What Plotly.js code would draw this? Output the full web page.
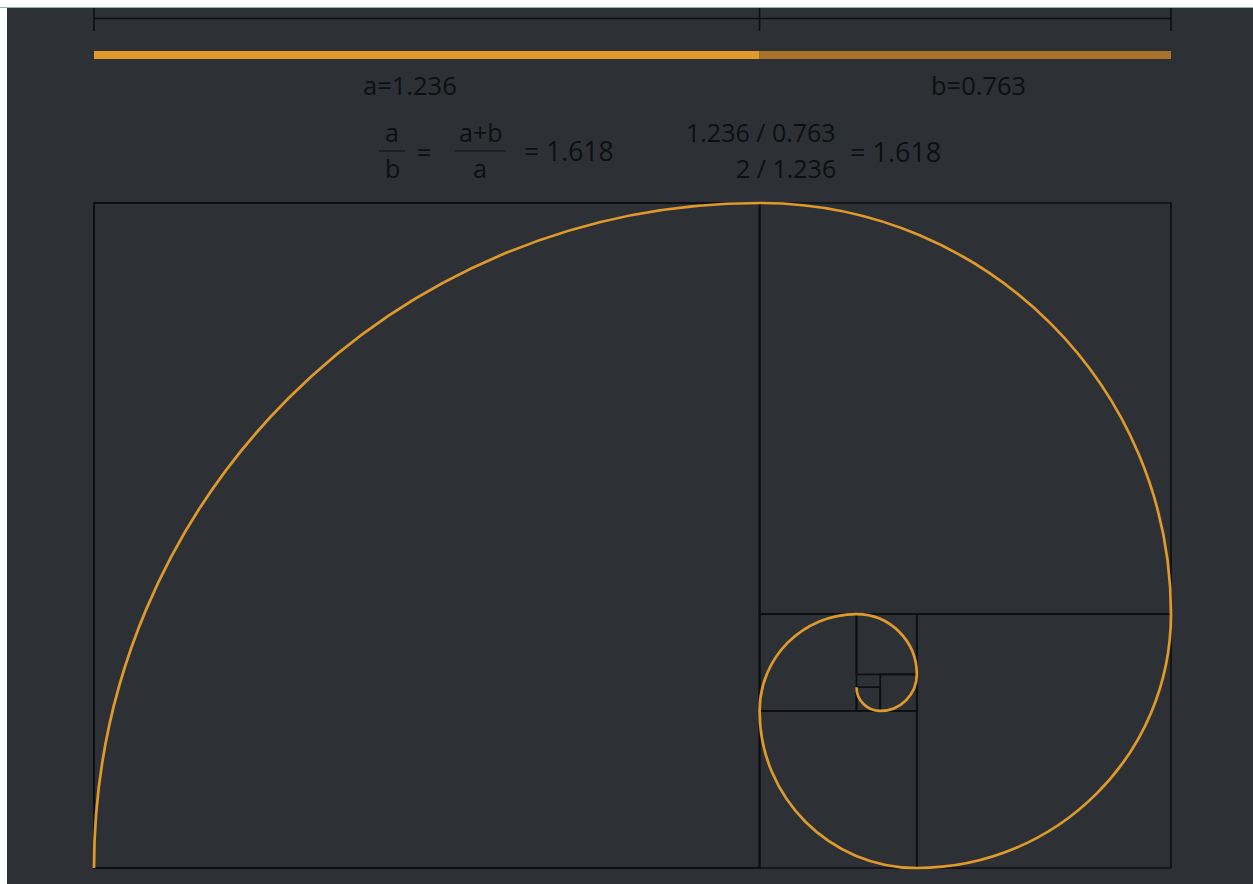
<!DOCTYPE html>
<html><head><meta charset="utf-8">
<script src="https://cdn.plot.ly/plotly-3.0.1.min.js"></script>
<style>
html,body{margin:0;padding:0;background:#ffffff;width:1253px;height:884px;overflow:hidden;}
#topline{position:absolute;left:0;top:7px;width:1253px;height:1px;background:#8fb3b0;}
#chart{position:absolute;left:7px;top:8px;width:1246px;height:876px;}
</style></head>
<body><div id="topline"></div><div id="chart"></div>
<script>
// ---- data ----
var segmentLabels = ['a=1.236', 'b=0.763'];
var segmentStart = [0, 1.236];
var segmentLength = [1.236, 0.764];
var squareX0 = [0, 1.236, 1.528, 1.236, 1.236, 1.416, 1.460, 1.416];
var squareY0 = [0, 0.472, 0, 0, 0.292, 0.360, 0.292, 0.292];
var squareSize = [1.236, 0.764, 0.472, 0.292, 0.180, 0.112, 0.068, 0.044];
var ratioText = '= 1.618';

// ---- layout helpers (page pixel -> data) ----
var W = 1246, H = 876, offX = 7, offY = 8;
var x0px = 94 - offX, x2px = 1171 - offX;      // x=0 and x=2
var kx = (x2px - x0px) / 2;
var y0px = 868 - offY, ytopPx = 203 - offY;    // y=0 and y=1.236
var ky = (y0px - ytopPx) / 1.236;
var xRange = [-x0px / kx, (W - x0px) / kx];
var yRange = [-(H - y0px) / ky, y0px / ky];
function px(p){ return (p - offX - x0px) / kx; }
function py(p){ return (y0px - (p - offY)) / ky; }

var ORANGE = '#e0992b', ORANGE2 = '#a8722a', INK = '#0e0f10';
var shapes = [];

// squares
for (var i = 0; i < squareSize.length; i++) {
  shapes.push({type:'rect', xref:'x', yref:'y', x0:squareX0[i], y0:squareY0[i],
    x1:squareX0[i]+squareSize[i], y1:squareY0[i]+squareSize[i],
    line:{color:INK, width: i === 0 ? 2 : 1.7}, layer:'above'});
}
// spiral: quarter arcs, pivot corner cycles BR, BL, TL, TR
var corners = [[1,0],[0,0],[0,1],[1,1]];
var startAng = [180, 90, 0, -90];
var k = 0.5523;
var path = '';
for (var i = 0; i < squareSize.length; i++) {
  var c = corners[i % 4], r = squareSize[i];
  var cx = squareX0[i] + c[0]*r, cy = squareY0[i] + c[1]*r;
  var a0 = startAng[i % 4]*Math.PI/180, a1 = a0 - Math.PI/2;
  var u = [Math.cos(a0), Math.sin(a0)], v = [Math.cos(a1), Math.sin(a1)];
  var p0 = [cx + r*u[0], cy + r*u[1]], p1 = [cx + r*v[0], cy + r*v[1]];
  var c1 = [p0[0] + k*r*v[0], p0[1] + k*r*v[1]];
  var c2 = [p1[0] + k*r*u[0], p1[1] + k*r*u[1]];
  if (i === 0) path += 'M' + p0[0] + ',' + p0[1];
  path += ' C' + c1[0] + ',' + c1[1] + ' ' + c2[0] + ',' + c2[1] + ' ' + p1[0] + ',' + p1[1];
}
shapes.push({type:'path', xref:'x', yref:'y', path:path, line:{color:ORANGE, width:2.7}, layer:'above'});

// ruler
var rulerY = py(18.5);
var total = segmentStart[1] + segmentLength[1];
shapes.push({type:'line', xref:'x', yref:'y', x0:0, x1:total, y0:rulerY, y1:rulerY, line:{color:INK, width:1.6}});
[0, segmentStart[1], total].forEach(function(t){
  shapes.push({type:'line', xref:'x', yref:'y', x0:t, x1:t, y0:py(8), y1:py(31), line:{color:INK, width:1.6}});
});
// golden bar
var barCols = [ORANGE, ORANGE2];
for (var i = 0; i < segmentLength.length; i++) {
  shapes.push({type:'rect', xref:'x', yref:'y', x0:segmentStart[i], x1:segmentStart[i]+segmentLength[i],
    y0:py(59), y1:py(51), fillcolor:barCols[i], line:{width:0}});
}
// fraction bars
shapes.push({type:'line', xref:'x', yref:'y', x0:px(379), x1:px(405), y0:py(151), y1:py(151), line:{color:'#1b1c1e', width:1.6}});
shapes.push({type:'line', xref:'x', yref:'y', x0:px(455), x1:px(506), y0:py(151), y1:py(151), line:{color:'#1b1c1e', width:1.6}});

function ann(text, xp, yp, xanchor, size){
  return {text:text, x:px(xp), y:py(yp), xref:'x', yref:'y', showarrow:false, xanchor:xanchor||'center', yanchor:'middle',
    font:{family:'Open Sans, sans-serif', size:size||25, color:INK}};
}
var annotations = [
  ann(segmentLabels[0], 410, 85, 'center', 25.5),
  ann(segmentLabels[1], 978, 85, 'center', 25.5),
  ann('a', 392, 132), ann('b', 392, 168),
  ann('=', 424, 152),
  ann('a+b', 480, 132), ann('a', 480, 168),
  ann(ratioText, 522, 151, 'left', 26.5),
  ann('1.236 / 0.763', 838, 132, 'right'),
  ann('2 / 1.236', 838, 168, 'right'),
  ann(ratioText, 848, 151, 'left', 27)
];

var layout = {
  width: W, height: H,
  margin:{l:0, r:0, t:0, b:0, pad:0},
  paper_bgcolor:'#2d3135', plot_bgcolor:'#2d3135',
  xaxis:{range:xRange, visible:false, fixedrange:true},
  yaxis:{range:yRange, visible:false, fixedrange:true},
  showlegend:false,
  shapes:shapes, annotations:annotations
};
Plotly.newPlot('chart', [{x:[], y:[], type:'scatter'}], layout, {displayModeBar:false, staticPlot:true});
</script></body></html>
